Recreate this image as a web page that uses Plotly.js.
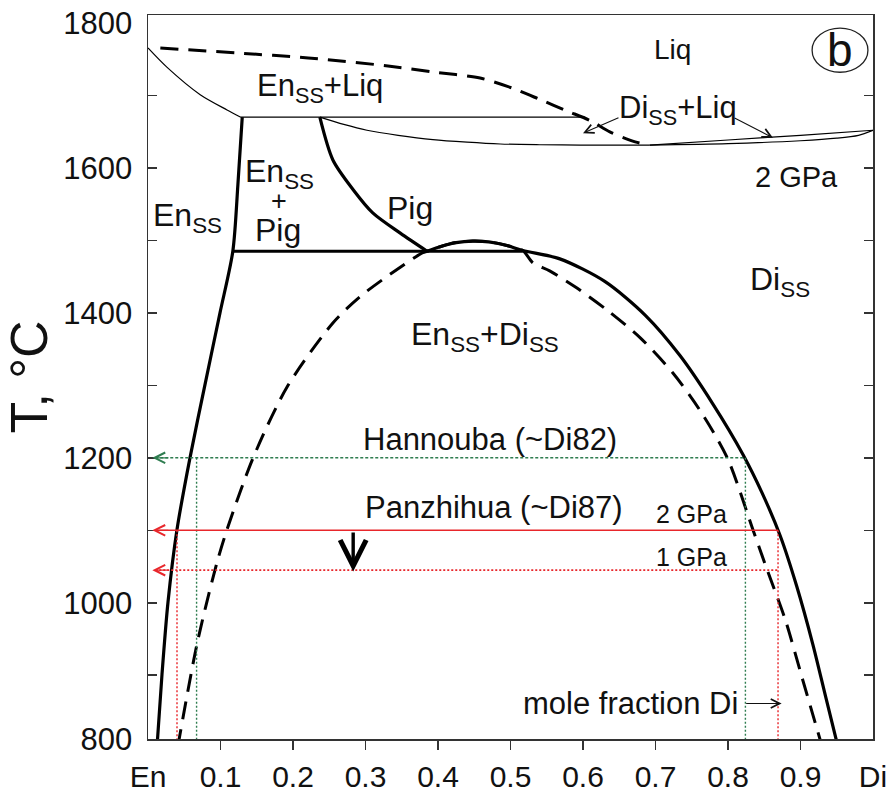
<!DOCTYPE html>
<html>
<head>
<meta charset="utf-8">
<script src="https://cdn.plot.ly/plotly-3.0.1.min.js"></script>
<style>html,body{margin:0;padding:0;background:#fff;}#chart{width:891px;height:801px;}</style>
</head>
<body>
<div id="chart"></div>
<script>
// ---- axis ticks ----
const xTickVals = [0, 0.1, 0.2, 0.3, 0.4, 0.5, 0.6, 0.7, 0.8, 0.9, 1];
const xTickText = ['En', '0.1', '0.2', '0.3', '0.4', '0.5', '0.6', '0.7', '0.8', '0.9', 'Di'];
const xMinorTicks = [0.1, 0.2, 0.3, 0.4, 0.5, 0.6, 0.7, 0.8, 0.9];
const yTickVals = [812, 1000, 1200, 1400, 1600, 1800];
const yTickText = ['800', '1000', '1200', '1400', '1600', '1800'];
const yMinorTicks = [900, 1000, 1100, 1200, 1300, 1400, 1500, 1600, 1700];

// ---- phase boundaries (mole fraction Di, T in °C) ----
// thin En-side solidus
const enLiqX = [0, 0.026, 0.072, 0.109, 0.128];
const enLiqT = [1765.5, 1739, 1701, 1680, 1670];
// thin peritectic horizontal at 1670
const periX = [0.128, 0.603];
const periT = [1670, 1670];
// thin Pig liquidus/solidus curve
const pigLiqX = [0.237, 0.270, 0.302, 0.345, 0.393, 0.440, 0.486, 0.540, 0.596, 0.692];
const pigLiqT = [1670, 1660, 1652, 1645, 1639, 1635.5, 1633, 1632, 1631.5, 1631.5];
// thin Di liquidus lens (upper and lower)
const lensUpX = [0.692, 0.8, 0.9, 1.0];
const lensUpT = [1631.5, 1638.5, 1645, 1652];
const lensLoX = [0.692, 0.8, 0.9, 0.95, 0.98, 1.0];
const lensLoT = [1631.5, 1633.5, 1637.5, 1641, 1645, 1652];
// dashed liquidus
const dashLiqX = [0.017, 0.123, 0.221, 0.331, 0.393, 0.458, 0.502, 0.542, 0.578, 0.611, 0.637, 0.672, 0.690];
const dashLiqT = [1765.5, 1758.6, 1751.7, 1740.7, 1732.4, 1724, 1710.3, 1693.8, 1678.6, 1664.8, 1649.7, 1635.9, 1631.7];
// thick En_ss solvus
const enSolvX = [0.130, 0.124, 0.117, 0.0993, 0.0786, 0.0579, 0.0400, 0.0276, 0.0193, 0.0124];
const enSolvT = [1670, 1577, 1485, 1400, 1301, 1200, 1101, 1001, 901, 801];
// thick Pig boundary
const pigX = [0.237, 0.255, 0.283, 0.310, 0.348, 0.385];
const pigT = [1670, 1611, 1570, 1538, 1510, 1485];
// thick horizontal at 1485
const eutX = [0.117, 0.517];
const eutT = [1485, 1485];
// thick Di_ss solvus (with arch)
const diSolvX = [0.385, 0.405, 0.425, 0.448, 0.470, 0.495, 0.517, 0.568, 0.630, 0.686, 0.734, 0.779, 0.821, 0.847, 0.872, 0.895, 0.917, 0.935, 0.952];
const diSolvT = [1485, 1492, 1497, 1499, 1498, 1493, 1486, 1474.5, 1443.4, 1396.6, 1340.7, 1274.5, 1204, 1151.7, 1092.4, 1022, 942.6, 869, 800];
// dashed solvus dome
const domeX = [0.041, 0.068, 0.095, 0.109, 0.145, 0.192, 0.255, 0.292, 0.348, 0.379, 0.385, 0.405, 0.425, 0.448, 0.470, 0.495, 0.517, 0.531, 0.554, 0.589, 0.633, 0.679, 0.724, 0.761, 0.799, 0.835, 0.854, 0.879, 0.903, 0.930];
const domeT = [801, 945, 1055, 1101, 1200, 1298, 1386, 1422, 1463, 1483, 1485, 1492, 1497, 1499, 1498, 1493, 1486, 1469, 1458, 1436, 1404, 1365.5, 1317, 1266, 1200, 1099, 1045.5, 976.6, 893.8, 801];

// ---- sample guide lines ----
const hanX = [0.01, 0.822];
const hanT = [1200, 1200];
const hanLeftX = [0.067, 0.067];
const hanRightX = [0.824, 0.824];
const hanVertT = [1200, 800];
const pan2X = [0.01, 0.869];
const pan2T = [1100, 1100];
const pan1X = [0.01, 0.869];
const pan1T = [1045, 1045];
const panLeftX = [0.040, 0.040];
const panRightX = [0.869, 0.869];
const panVertT = [1100, 800];

const FONT = '"Liberation Sans", Arial, Helvetica, sans-serif';
const GREEN = '#2f7d50';
const RED = '#e8262b';

function line(x, y, width, dash, color) {
  return {x: x, y: y, type: 'scatter', mode: 'lines', hoverinfo: 'skip', showlegend: false,
          line: {color: color || '#000', width: width, dash: dash || 'solid', shape: 'spline', smoothing: 0.8}};
}
function straight(x, y, width, dash, color) {
  return {x: x, y: y, type: 'scatter', mode: 'lines', hoverinfo: 'skip', showlegend: false,
          line: {color: color || '#000', width: width, dash: dash || 'solid'}};
}

const traces = [
  line(enLiqX, enLiqT, 1.2),
  straight(periX, periT, 1.2),
  line(pigLiqX, pigLiqT, 1.2),
  line(lensUpX, lensUpT, 1.2),
  line(lensLoX, lensLoT, 1.2),
  line(dashLiqX, dashLiqT, 3, '18px,10px'),
  line(domeX, domeT, 3, '18px,10px'),
  line(enSolvX, enSolvT, 3.2),
  line(pigX, pigT, 3.2),
  straight(eutX, eutT, 3.2),
  line(diSolvX, diSolvT, 3.2),
  straight(hanX, hanT, 1.4, '3px,2px', GREEN),
  straight(hanLeftX, hanVertT, 1.4, '2px,2px', GREEN),
  straight(hanRightX, hanVertT, 1.4, '2px,2px', GREEN),
  straight(pan2X, pan2T, 1.6, 'solid', RED),
  straight(pan1X, pan1T, 1.6, '2px,2px', RED),
  straight(panLeftX, panVertT, 1.4, '2px,2px', RED),
  straight(panRightX, panVertT, 1.4, '2px,2px', RED)
];

function label(x, y, text, size, extra) {
  return Object.assign({x: x, y: y, xref: 'x', yref: 'y', text: text, showarrow: false,
    font: {family: FONT, size: size, color: '#111'}, xanchor: 'center', yanchor: 'middle'}, extra || {});
}
function arrow(x, y, ax, ay, color, head, size, width) {
  return {x: x, y: y, ax: ax, ay: ay, xref: 'x', yref: 'y', axref: 'x', ayref: 'y', text: '',
    showarrow: true, arrowhead: head, arrowsize: size, arrowwidth: width, arrowcolor: color, standoff: 0, startstandoff: 0};
}

const annotations = [
  label(0.237, 1710, 'En<sub>SS</sub>+Liq', 31),
  label(0.724, 1763, 'Liq', 28),
  label(0.731, 1680, 'Di<sub>SS</sub>+Liq', 31),
  label(0.894, 1588, '2 GPa', 29),
  label(0.054, 1531, 'En<sub>SS</sub>', 32),
  label(0.181, 1592, 'En<sub>SS</sub>', 32),
  label(0.181, 1555, '+', 27),
  label(0.179, 1515, 'Pig', 32),
  label(0.361, 1545, 'Pig', 32),
  label(0.872, 1443, 'Di<sub>SS</sub>', 32),
  label(0.465, 1367, 'En<sub>SS</sub>+Di<sub>SS</sub>', 32),
  label(0.472, 1225, 'Hannouba (~Di82)', 31),
  label(0.477, 1132, 'Panzhihua (~Di87)', 31),
  label(0.750, 1123, '2 GPa', 25),
  label(0.750, 1063, '1 GPa', 25),
  label(0.665, 861, 'mole fraction Di', 31),
  label(0.954, 1763, 'b', 46),
  arrow(0.600, 1648, 0.651, 1670, '#111', 5, 1.6, 1.1),
  arrow(0.862, 1641.5, 0.807, 1670, '#111', 5, 1.6, 1.1),
  arrow(0.874, 861, 0.823, 861, '#111', 5, 1.6, 1.1),
  arrow(0.283, 1043, 0.283, 1099, '#000', 5, 1.5, 3.4),
  arrow(0.006, 1200, 0.03, 1200, GREEN, 5, 1.6, 1.3),
  arrow(0.006, 1100, 0.03, 1100, RED, 5, 1.6, 1.3),
  arrow(0.006, 1045, 0.03, 1045, RED, 5, 1.6, 1.3)
];

const shapes = [
  {type: 'circle', xref: 'x', yref: 'y', x0: 0.916, x1: 0.993, y0: 1732, y1: 1793,
   line: {color: '#222', width: 1.3}}
];

const layout = {
  width: 891, height: 801,
  margin: {l: 148, r: 18, t: 15, b: 62},
  paper_bgcolor: '#fff', plot_bgcolor: '#fff',
  showlegend: false,
  xaxis: {
    range: [0, 1], showgrid: false, zeroline: false,
    showline: true, linecolor: '#333', linewidth: 1.5, mirror: true,
    tickmode: 'array', tickvals: xTickVals, ticktext: xTickText, ticks: '',
    ticklabelstandoff: 10,
    minor: {tickmode: 'array', tickvals: xMinorTicks, ticks: 'outside', ticklen: 9, tickwidth: 1.5, tickcolor: '#333'},
    tickfont: {family: FONT, size: 30, color: '#111'}
  },
  yaxis: {
    range: [812, 1811], showgrid: false, zeroline: false,
    showline: true, linecolor: '#333', linewidth: 1.5, mirror: 'ticks',
    tickmode: 'array', tickvals: yTickVals, ticktext: yTickText, ticks: '',
    ticklabelstandoff: 8,
    minor: {tickmode: 'array', tickvals: yMinorTicks, ticks: 'inside', ticklen: 9, tickwidth: 1.5, tickcolor: '#333'},
    tickfont: {family: FONT, size: 31, color: '#111'},
    title: {text: 'T, °C\u00a0\u00a0\u00a0', font: {family: FONT, size: 52, color: '#111'}, standoff: 4}
  },
  shapes: shapes,
  annotations: annotations
};

Plotly.newPlot('chart', traces, layout, {staticPlot: true, displayModeBar: false});
</script>
</body>
</html>
